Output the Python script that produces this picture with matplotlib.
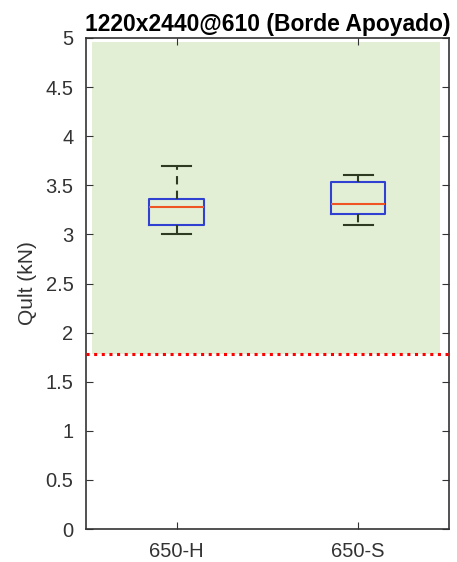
import matplotlib.pyplot as plt

plt.rcParams['font.family'] = ['Liberation Sans', 'DejaVu Sans']

groups = ['650-H', '650-S']
whis_lo = [3.0, 3.1]
q1 = [3.10, 3.21]
med = [3.28, 3.31]
q3 = [3.36, 3.53]
whis_hi = [3.70, 3.60]

limit = 1.78
zone_top = 4.96
title = '1220x2440@610 (Borde Apoyado)'

stats = []
for i, g in enumerate(groups):
    stats.append(dict(label=g, whislo=whis_lo[i], q1=q1[i], med=med[i],
                      q3=q3[i], whishi=whis_hi[i], fliers=[]))

fig = plt.figure(figsize=(4.57, 5.62), dpi=100)
ax = fig.add_axes([0.188, 0.0587, 0.7945, 0.8737])

ax.fill_between([0.533, 2.45], limit, zone_top, color='#e2efd5', lw=0, zorder=0)
ax.axhline(limit, color='red', ls=(0, (1, 1.5)), lw=2.2, zorder=3)

ax.bxp(stats, positions=[1, 2], widths=0.30, showfliers=False,
       boxprops=dict(color='#3040d0', lw=1.5),
       medianprops=dict(color='#ee5522', lw=1.5),
       whiskerprops=dict(color='#2e3a22', lw=1.5, ls=(0, (4, 3))),
       capprops=dict(color='#2e3a22', lw=1.5), capwidths=0.16)

ax.set_xlim(0.5, 2.5)
ax.set_ylim(0, 5)
ax.set_yticks([0, 0.5, 1, 1.5, 2, 2.5, 3, 3.5, 4, 4.5, 5])
ax.set_yticklabels(['0', '0.5', '1', '1.5', '2', '2.5', '3', '3.5', '4', '4.5', '5'])
ax.set_xticks([1, 2])
ax.set_xticklabels(groups)
ax.tick_params(direction='in', top=True, right=True, labelsize=14.5, length=5, pad=9,
               colors='#333333')
for s in ax.spines.values():
    s.set_color('#333333')
    s.set_linewidth(1.2)
ax.set_ylabel('Qult (kN)', fontsize=15, color='#333333', labelpad=6)
ax.set_title(title, fontsize=16.5, fontweight='bold', pad=5)

fig.savefig('out.png', dpi=100)
